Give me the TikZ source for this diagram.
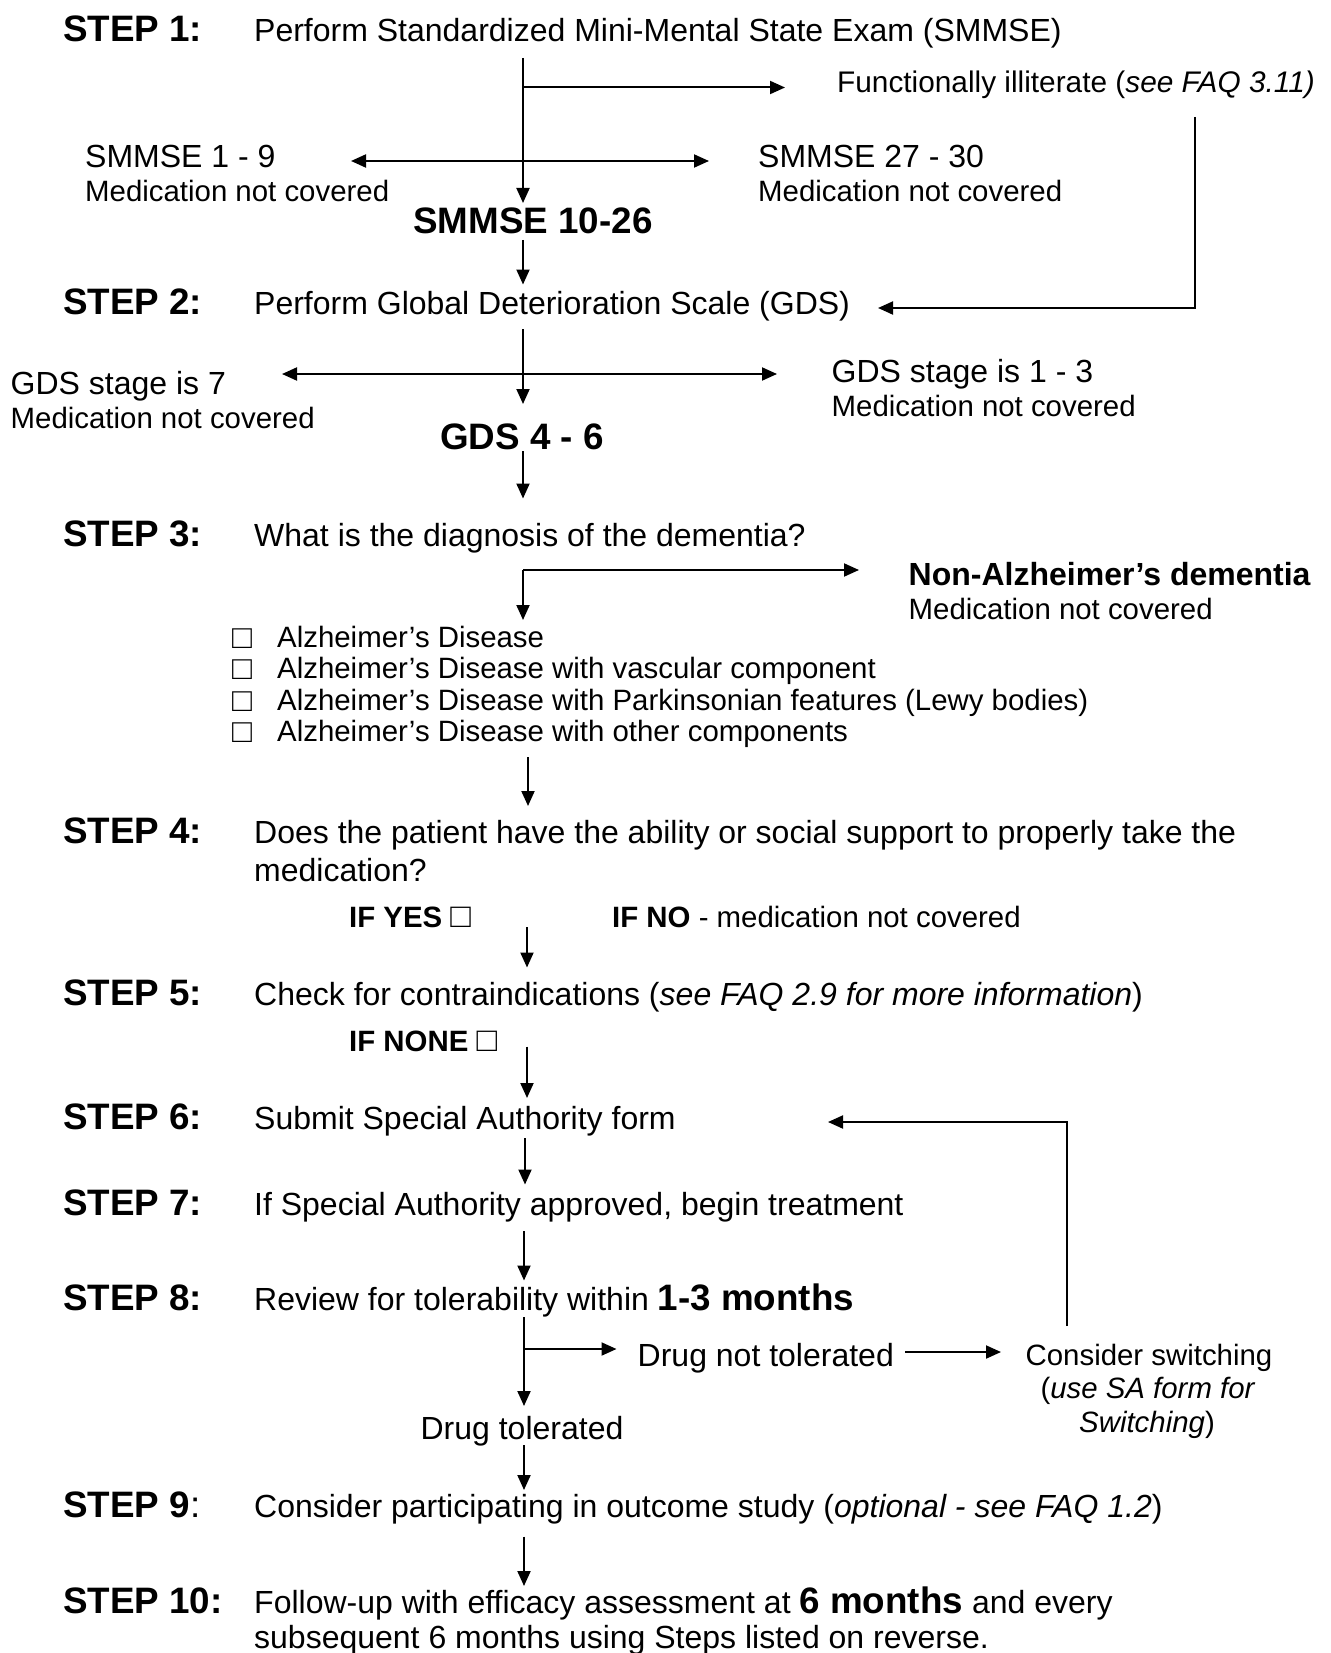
\documentclass[tikz,border=0pt]{standalone}
\usepackage{fontspec}
\setmainfont{Liberation Sans}
\usetikzlibrary{arrows.meta}
\tikzset{
  lbl/.style={anchor=base west, inner sep=0pt, font=\fontsize{36.8}{40}\selectfont\bfseries},
  txt/.style={anchor=base west, inner sep=0pt, font=\fontsize{32}{38}\selectfont},
  sml/.style={anchor=base west, inner sep=0pt, font=\fontsize{29.4}{34}\selectfont},
  smlb/.style={anchor=base west, inner sep=0pt, font=\fontsize{29.4}{34}\selectfont\bfseries},
  smlc/.style={anchor=base, inner sep=0pt, font=\fontsize{29.4}{34}\selectfont},
  txtc/.style={anchor=base, inner sep=0pt, font=\fontsize{32}{38}\selectfont},
  big/.style={anchor=base, inner sep=0pt, font=\fontsize{36.8}{40}\selectfont\bfseries},
  boxc/.style={anchor=base west, inner sep=0pt, text height=20pt, text depth=0pt, font=\fontsize{33}{34}\selectfont},
  arr/.style={-{Triangle[length=15pt,width=13pt]}, line width=2pt},
  dbl/.style={{Triangle[length=15pt,width=13pt]}-{Triangle[length=15pt,width=13pt]}, line width=2pt},
}
\newcommand{\bigb}[1]{{\fontsize{36.8}{40}\selectfont\bfseries #1}}
\newcommand{\sqbox}{{\fontsize{34}{34}\selectfont\mdseries □}}
\begin{document}
\begin{tikzpicture}[x=1pt,y=-1pt]
\useasboundingbox (0,0) rectangle (1330,1653);

% ---- STEP 1
\node[lbl] (s1) at (63,42) {STEP 1:};
\node[txt] (t1) at (254,42) {Perform Standardized Mini-Mental State Exam (SMMSE)};
\node[anchor=base west, inner sep=0pt, font=\fontsize{29.8}{34}\selectfont] (illit) at (837,92.5) {Functionally illiterate (\textit{see FAQ 3.11)}};
\node[txt] (m19) at (85,167.5) {SMMSE 1 - 9};
\node[sml] (m19b) at (85,201.5) {Medication not covered};
\node[txt] (m2730) at (758,167.5) {SMMSE 27 - 30};
\node[sml] (m2730b) at (758,201.5) {Medication not covered};
\node[big] (m1026) at (533,234) {SMMSE 10-26};

\coordinate (a1s) at (523,58);
\coordinate (a1e) at (523,203);
\coordinate (a1j) at (523,87.5);
\coordinate (a1r) at (785,87.5);
\coordinate (d1l) at (351,161);
\coordinate (d1r) at (709,161);
\draw[arr] (a1s) -- (a1e);
\draw[arr] (a1j) -- (a1r);
\draw[dbl] (d1l) -- (d1r);

\coordinate (a2s) at (523,240);
\coordinate (a2e) at (523,284.5);
\draw[arr] (a2s) -- (a2e);

\coordinate (lpA) at (1195,117);
\coordinate (lpB) at (1195,308);
\coordinate (lpC) at (878,308);
\draw[arr] (lpA) -- (lpB) -- (lpC);

% ---- STEP 2
\node[lbl] (s2) at (63,314.5) {STEP 2:};
\node[txt] (t2) at (254,314.5) {Perform Global Deterioration Scale (GDS)};
\node[txt] (g7) at (10.5,394) {GDS stage is 7};
\node[sml] (g7b) at (10.5,428.5) {Medication not covered};
\node[txt] (g13) at (831.5,382.5) {GDS stage is 1 - 3};
\node[sml] (g13b) at (831.5,416.5) {Medication not covered};
\node[big] (g46) at (522,449) {GDS 4 - 6};

\coordinate (a3s) at (523,329);
\coordinate (a3e) at (523,404);
\coordinate (d2l) at (282,374);
\coordinate (d2r) at (777,374);
\draw[arr] (a3s) -- (a3e);
\draw[dbl] (d2l) -- (d2r);

\coordinate (a4s) at (523,451);
\coordinate (a4e) at (523,498.5);
\draw[arr] (a4s) -- (a4e);

% ---- STEP 3
\node[lbl] (s3) at (63,546) {STEP 3:};
\node[txt] (t3) at (254,546) {What is the diagnosis of the dementia?};
\node[anchor=base west, inner sep=0pt, font=\fontsize{32}{38}\selectfont\bfseries] (nad) at (908.5,585.5) {Non-Alzheimer’s dementia};
\node[sml] (nadb) at (908.5,619.5) {Medication not covered};
\node[boxc] (bx1) at (232,648) {□};
\node[sml] (l1) at (277,647) {Alzheimer’s Disease};
\node[boxc] (bx2) at (232,679.5) {□};
\node[sml] (l2) at (277,678.5) {Alzheimer’s Disease with vascular component};
\node[boxc] (bx3) at (232,711.5) {□};
\node[sml] (l3) at (277,710.5) {Alzheimer’s Disease with Parkinsonian features (Lewy bodies)};
\node[boxc] (bx4) at (232,742.5) {□};
\node[sml] (l4) at (277,741.5) {Alzheimer’s Disease with other components};

\coordinate (a5j) at (523,570);
\coordinate (a5e) at (523,620);
\coordinate (a5r) at (859,570);
\draw[arr] (a5j) -- (a5e);
\draw[arr] (a5j) -- (a5r);

\coordinate (a6s) at (528,757);
\coordinate (a6e) at (528,806);
\draw[arr] (a6s) -- (a6e);

% ---- STEP 4
\node[lbl] (s4) at (63,843.5) {STEP 4:};
\node[txt] (t4) at (254,843.5) {Does the patient have the ability or social support to properly take the};
\node[txt] (t4b) at (254,881) {medication?};
\node[smlb] (yes) at (349,927.5) {IF YES \sqbox};
\node[sml] (no) at (612,927.5) {\textbf{IF NO} - medication not covered};

\coordinate (a7s) at (527,927);
\coordinate (a7e) at (527,967.5);
\draw[arr] (a7s) -- (a7e);

% ---- STEP 5
\node[lbl] (s5) at (63,1005) {STEP 5:};
\node[txt] (t5) at (254,1005) {Check for contraindications (\textit{see FAQ 2.9 for more information})};
\node[smlb] (none) at (349,1051.5) {IF NONE \sqbox};

\coordinate (a8s) at (527,1046.5);
\coordinate (a8e) at (527,1098);
\draw[arr] (a8s) -- (a8e);

% ---- STEP 6
\node[lbl] (s6) at (63,1129) {STEP 6:};
\node[txt] (t6) at (254,1129) {Submit Special Authority form};

\coordinate (a9s) at (525,1138);
\coordinate (a9e) at (525,1184.5);
\draw[arr] (a9s) -- (a9e);

% ---- STEP 7
\node[lbl] (s7) at (63,1215.5) {STEP 7:};
\node[txt] (t7) at (254,1215.5) {If Special Authority approved, begin treatment};

\coordinate (a10s) at (524,1231);
\coordinate (a10e) at (524,1280.5);
\draw[arr] (a10s) -- (a10e);

% ---- STEP 8
\node[lbl] (s8) at (63,1310.5) {STEP 8:};
\node[txt] (t8) at (254,1310.5) {Review for tolerability within \bigb{1-3 months}};
\node[txt] (dnt) at (637.5,1366.5) {Drug not tolerated};
\node[smlc] (cs1) at (1149,1365.5) {Consider switching};
\node[smlc] (cs2) at (1148,1398.5) {(\textit{use SA form for}};
\node[smlc] (cs3) at (1147,1432.5) {\textit{Switching})};
\node[txtc] (dt) at (522,1439.5) {Drug tolerated};

\coordinate (a11s) at (524,1317);
\coordinate (a11e) at (524,1406);
\coordinate (a11j) at (524,1349);
\coordinate (a11r) at (616.5,1349);
\draw[arr] (a11s) -- (a11e);
\draw[arr] (a11j) -- (a11r);

\coordinate (a12s) at (905,1352);
\coordinate (a12e) at (1001,1352);
\draw[arr] (a12s) -- (a12e);

\coordinate (fbA) at (1066.5,1326);
\coordinate (fbB) at (1066.5,1122);
\coordinate (fbC) at (828,1122);
\draw[arr] (fbA) -- (fbB) -- (fbC);

\coordinate (a13s) at (524,1445);
\coordinate (a13e) at (524,1490);
\draw[arr] (a13s) -- (a13e);

% ---- STEP 9
\node[anchor=base west, inner sep=0pt, font=\fontsize{36.8}{40}\selectfont] (s9) at (63,1517) {\textbf{STEP 9}:};
\node[txt] (t9) at (254,1517) {Consider participating in outcome study (\textit{optional - see FAQ 1.2})};

\coordinate (a14s) at (524,1536.5);
\coordinate (a14e) at (524,1586);
\draw[arr] (a14s) -- (a14e);

% ---- STEP 10
\node[lbl] (s10) at (63,1613) {STEP 10:};
\node[txt] (t10) at (254,1613) {Follow-up with efficacy assessment at \bigb{6 months} and every};
\node[txt] (t10b) at (254,1648.5) {subsequent 6 months using Steps listed on reverse.};
\end{tikzpicture}
\end{document}
